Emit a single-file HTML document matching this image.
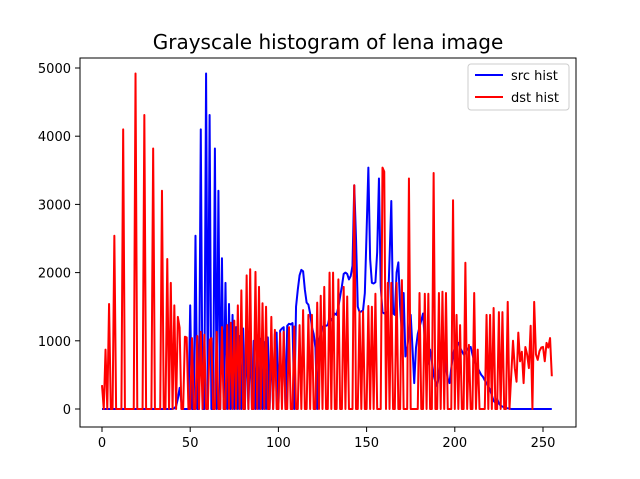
<!DOCTYPE html>
<html><head><meta charset="utf-8"><style>
html,body{margin:0;padding:0;background:#fff;}
svg{display:block;font-family:"DejaVu Sans","Liberation Sans",sans-serif;}
</style></head><body>
<svg id="chart" width="640" height="479" viewBox="0 0 640 479">
<rect width="640" height="479" fill="#fff"/>
<text x="328" y="49" text-anchor="middle" font-size="20">Grayscale histogram of lena image</text>
<g id="grid"></g>
<g id="series"></g>
<rect x="80" y="58" width="496" height="369" fill="none" stroke="#000" stroke-width="1"/>
<g id="ticks"></g>
<g>
<rect x="468" y="64" width="101" height="46" rx="3" fill="#fff" fill-opacity="0.8" stroke="#ccc"/>
<line x1="475" y1="75" x2="503" y2="75" stroke="#0000ff" stroke-width="2"/>
<text x="511" y="80" font-size="13">src hist</text>
<line x1="475" y1="97" x2="503" y2="97" stroke="#ff0000" stroke-width="2"/>
<text x="511" y="102" font-size="13">dst hist</text>
</g>
</svg>
<script>
const xTicks = [0, 50, 100, 150, 200, 250];
const yTicks = [0, 1000, 2000, 3000, 4000, 5000];
const srcHist = [
0,0,0,0,0,0,0,0,0,0, 0,0,0,0,0,0,0,0,0,0, 0,0,0,0,0,0,0,0,0,0, 0,0,0,0,0,0,0,0,0,0,
0,10,40,150,310,100,0,0,0,0,
1520,0,0,2540,0,0,4100,0,0,4920,
0,4310,0,0,3820,0,3200,0,2210,0,
1850,0,1540,0,1380,0,1200,0,1070,0,
1180,0,1120,0,1060,0,1000,0,1080,0,
1030,0,980,0,1050,0,1000,0,1100,1120,
0,1150,1180,1200,0,1220,1250,1240,1260,0,
1500,1750,1960,2040,2020,1750,1560,1530,1400,1200,
1100,900,0,1000,1100,1200,1230,1220,1230,1350,
1300,1350,1400,1380,1500,1650,1800,1980,2000,1980,
1900,1950,2100,3280,2500,1500,1420,1430,1450,1700,
2600,3540,2200,1850,1840,1860,2300,3380,1800,1420,
1400,1420,1400,2200,3050,1400,1380,2000,2150,1500,
1100,1700,770,900,1100,1380,900,380,900,1100,
1200,1300,1400,1000,620,700,870,700,500,400,
330,500,700,800,820,600,450,380,600,800,
900,950,970,900,850,800,820,870,900,910,
800,700,650,600,550,500,470,420,380,330,
280,200,120,90,150,80,50,35,25,15,
10,5,0,0,0,0,0,0,0,0,
0,0,0,0,0,0,0,0,0,0,
0,0,0,0,0,0
];
const dstHist = [
350,0,870,0,1540,0,0,2540,0,0,
0,0,4100,0,0,0,0,0,0,4920,
0,0,0,0,4310,0,0,0,0,3820,
0,0,0,0,3200,0,0,2200,0,1850,
0,1520,0,1350,1190,0,0,1060,1050,0,
0,1040,0,0,1070,0,1130,0,1090,0,
0,1010,1040,0,0,1130,0,0,1200,0,
0,1230,0,1265,0,1295,0,1520,0,1740,
0,0,1960,0,2050,0,0,2010,0,1790,
0,1550,0,1500,0,0,1350,0,1160,0,
0,1110,0,1130,0,0,1200,0,0,1210,
0,0,1230,0,1450,0,0,1380,0,1380,
0,0,1560,0,1660,0,1790,0,0,2000,
0,2000,0,0,1900,0,0,1790,0,1650,
0,0,0,3280,0,0,1430,0,1430,0,
0,1510,0,1500,0,1690,0,0,0,3540,
3480,0,1850,0,1850,0,0,1850,0,0,
1890,0,0,0,3380,0,0,0,0,0,
1700,0,0,1690,0,1690,0,0,3460,0,
0,1700,0,1720,0,1700,0,0,0,3060,
0,1380,0,1230,0,0,2145,0,940,0,
0,1700,0,870,0,0,0,0,1380,0,
1380,0,1480,0,0,1420,0,1420,0,0,
1570,0,500,1000,600,400,1120,700,840,380,
910,800,600,1220,0,1570,800,720,850,900,
910,700,970,900,1040,480
];
const NS = 'http://www.w3.org/2000/svg';
const X0 = 102, XS = 1.764, Y0 = 409, YS = 0.0682;
function xs(v){ return X0 + v*XS; }
function ys(v){ return Y0 - v*YS; }
const series = document.getElementById('series');
function drawLine(arr, color, name){
  const pts = arr.map((v,i)=> xs(i).toFixed(2)+','+ys(v).toFixed(2)).join(' ');
  const pl = document.createElementNS(NS,'polyline');
  pl.setAttribute('points', pts);
  pl.setAttribute('fill','none');
  pl.setAttribute('stroke', color);
  pl.setAttribute('stroke-width','2');
  pl.setAttribute('stroke-linejoin','round');
  
  
  series.appendChild(pl);
}
drawLine(srcHist, '#0000ff', 'src-hist-line');
drawLine(dstHist, '#ff0000', 'dst-hist-line');
const ticks = document.getElementById('ticks');
xTicks.forEach(v=>{
  const l = document.createElementNS(NS,'line');
  l.setAttribute('x1', xs(v)); l.setAttribute('x2', xs(v));
  l.setAttribute('y1', 427); l.setAttribute('y2', 432);
  l.setAttribute('stroke','#000');
  
  
  ticks.appendChild(l);
  const t = document.createElementNS(NS,'text');
  t.setAttribute('x', xs(v)); t.setAttribute('y', 447);
  t.setAttribute('text-anchor','middle'); t.setAttribute('font-size','13');
  t.textContent = v;
  
  
  ticks.appendChild(t);
});
yTicks.forEach(v=>{
  const l = document.createElementNS(NS,'line');
  l.setAttribute('x1', 75); l.setAttribute('x2', 80);
  l.setAttribute('y1', ys(v)); l.setAttribute('y2', ys(v));
  l.setAttribute('stroke','#000');
  
  
  ticks.appendChild(l);
  const t = document.createElementNS(NS,'text');
  t.setAttribute('x', 71); t.setAttribute('y', ys(v)+5);
  t.setAttribute('text-anchor','end'); t.setAttribute('font-size','13');
  t.textContent = v;
  
  
  ticks.appendChild(t);
});
</script>
</body></html>
